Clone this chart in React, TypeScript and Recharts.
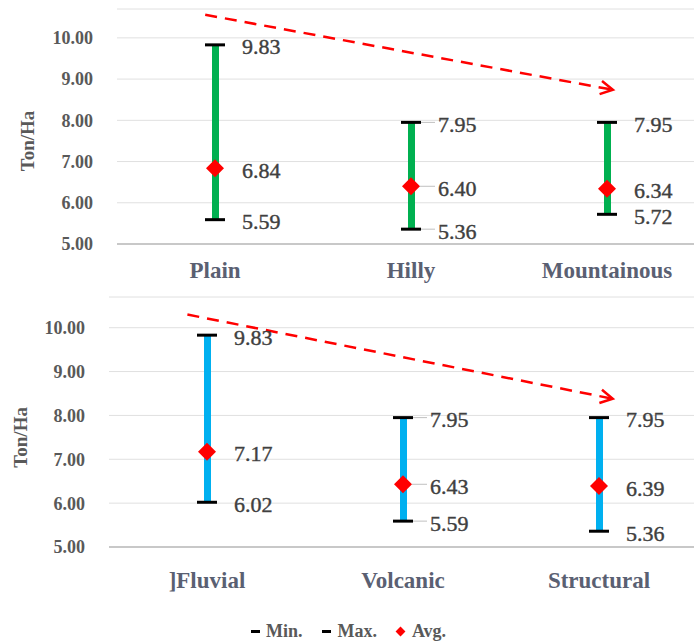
import React from "react";
import {
  ComposedChart,
  Bar,
  Scatter,
  XAxis,
  YAxis,
  CartesianGrid,
  ReferenceLine,
  Legend,
} from "recharts";

const landformCats = ["Plain", "Hilly", "Mountainous"];
const landformMin = [5.59, 5.36, 5.72];
const landformMax = [9.83, 7.95, 7.95];
const landformAvg = [6.84, 6.4, 6.34];
const landformLeader = [false, true, false];

const geoCats = ["]Fluvial", "Volcanic", "Structural"];
const geoMin = [6.02, 5.59, 5.36];
const geoMax = [9.83, 7.95, 7.95];
const geoAvg = [7.17, 6.43, 6.39];
const geoLeader = [false, true, false];

const yTicks = [5, 6, 7, 8, 9, 10];
const DOMAIN_TOP = 10.7;

// trend arrow ends: [offset from first / last category in bands, value]
const landformTrend = [
  [-0.05, 10.56],
  [0.03, 8.74],
];
const geoTrend = [
  [-0.1, 10.3],
  [0.07, 8.38],
];

const legendItems = [
  { label: "Min.", kind: "dash" },
  { label: "Max.", kind: "dash" },
  { label: "Avg.", kind: "diamond" },
];

const FONT = "'Liberation Serif', serif";

function capShape(key: "min" | "max") {
  return (p: any) => {
    const { cx, cy, payload } = p;
    return (
      <g>
        <line x1={cx - 10} x2={cx + 10} y1={cy} y2={cy} stroke="#000" strokeWidth={3} />
        {payload.leader && (
          <line x1={cx + 10} x2={cx + 24} y1={cy} y2={cy} stroke="#c0c0c0" strokeWidth={1} />
        )}
        <text
          x={cx + 27}
          y={cy + 2}
          dominantBaseline="central"
          fontSize={22}
          fill="#404040"
          stroke="#404040"
          strokeWidth={0.4}
          fontFamily={FONT}
        >
          {payload[key].toFixed(2)}
        </text>
      </g>
    );
  };
}

const avgShape = (p: any) => {
  const { cx, cy, payload } = p;
  return (
    <g>
      {payload.leader && (
        <line x1={cx + 9} x2={cx + 24} y1={cy} y2={cy} stroke="#c0c0c0" strokeWidth={1} />
      )}
      <polygon
        points={`${cx},${cy - 9} ${cx + 9},${cy} ${cx},${cy + 9} ${cx - 9},${cy}`}
        fill="#ff0000"
      />
      <text
        x={cx + 27}
        y={cy + 2}
        dominantBaseline="central"
        fontSize={22}
        fill="#404040"
        stroke="#404040"
        strokeWidth={0.4}
        fontFamily={FONT}
      >
        {payload.avg.toFixed(2)}
      </text>
    </g>
  );
};

function arrowShape(trend: number[][], nCats: number) {
  return (p: any) => {
    const { x1: cx1, y1, x2: cx2, y2 } = p;
    if (cx1 == null) return null;
    const band = (cx2 - cx1) / (nCats - 1);
    const x1 = cx1 + trend[0][0] * band;
    const x2 = cx2 + trend[1][0] * band;
    const a = Math.atan2(y2 - y1, x2 - x1);
    const len = 14;
    const h1x = x2 - len * Math.cos(a - 0.5);
    const h1y = y2 - len * Math.sin(a - 0.5);
    const h2x = x2 - len * Math.cos(a + 0.5);
    const h2y = y2 - len * Math.sin(a + 0.5);
    return (
      <g>
        <line x1={x1} y1={y1} x2={x2} y2={y2} stroke="#ff0000" strokeWidth={2.5} strokeDasharray="12 8" />
        <polyline
          points={`${h1x},${h1y} ${x2},${y2} ${h2x},${h2y}`}
          fill="none"
          stroke="#ff0000"
          strokeWidth={2.5}
        />
      </g>
    );
  };
}

const LegendRow = () => (
  <div
    style={{
      display: "flex",
      justifyContent: "center",
      gap: 20,
      paddingTop: 34,
      fontFamily: FONT,
      fontWeight: "bold",
      fontSize: 18,
      color: "#595959",
    }}
  >
    {legendItems.map((it) => (
      <span key={it.label} style={{ display: "inline-flex", alignItems: "center" }}>
        {it.kind === "dash" ? (
          <span style={{ display: "inline-block", width: 9, height: 3, background: "#000", marginRight: 6 }} />
        ) : (
          <span
            style={{
              display: "inline-block",
              width: 7,
              height: 7,
              background: "#ff0000",
              transform: "rotate(45deg)",
              marginRight: 8,
            }}
          />
        )}
        {it.label}
      </span>
    ))}
  </div>
);

type Props = {
  cats: string[];
  mins: number[];
  maxs: number[];
  avgs: number[];
  leaders: boolean[];
  trend: number[][];
  color: string;
  width: number;
  height: number;
  top: number;
  bottom: number;
  plotLeft: number;
  titleX: number;
  xTickMargin: number;
  legend?: boolean;
};

function RangeChart(props: Props) {
  const data = props.cats.map((name, i) => ({
    name,
    min: props.mins[i],
    max: props.maxs[i],
    avg: props.avgs[i],
    range: [props.mins[i], props.maxs[i]],
    leader: props.leaders[i],
  }));
  const n = props.cats.length;
  return (
    <ComposedChart
      width={props.width}
      height={props.height}
      data={data}
      margin={{ top: props.top, right: 5, bottom: props.bottom, left: 0 }}
    >
      <CartesianGrid vertical={false} stroke="#e0e0e0" />
      <XAxis
        dataKey="name"
        tickLine={false}
        axisLine={{ stroke: "#c8c8c8", strokeWidth: 2 }}
        tickMargin={props.xTickMargin}
        height={40}
        tick={{ fill: "#5a6072", fontSize: 23, fontWeight: "bold", fontFamily: FONT }}
      />
      <YAxis
        width={props.plotLeft}
        domain={[5, DOMAIN_TOP]}
        ticks={yTicks}
        tickLine={false}
        axisLine={false}
        tickSize={0}
        tickMargin={24}
        tickFormatter={(v: number) => v.toFixed(2)}
        tick={{ fill: "#595959", fontSize: 18, fontWeight: "bold", fontFamily: FONT }}
        label={{
          content: (lp: any) => {
            const vb = lp.viewBox;
            const cy = vb.y + (vb.height * (DOMAIN_TOP - 7.5)) / (DOMAIN_TOP - 5);
            const x = props.titleX;
            return (
              <text
                x={x}
                y={cy}
                transform={`rotate(-90 ${x} ${cy})`}
                textAnchor="middle"
                dominantBaseline="central"
                fontSize={19}
                fontWeight="bold"
                fill="#595959"
                fontFamily={FONT}
              >
                Ton/Ha
              </text>
            );
          },
        }}
      />
      <Bar dataKey="range" fill={props.color} barSize={7} isAnimationActive={false} />
      <Scatter dataKey="max" shape={capShape("max")} isAnimationActive={false} />
      <Scatter dataKey="min" shape={capShape("min")} isAnimationActive={false} />
      <Scatter dataKey="avg" shape={avgShape} isAnimationActive={false} />
      <ReferenceLine
        ifOverflow="visible"
        segment={[
          { x: props.cats[0], y: props.trend[0][1] },
          { x: props.cats[n - 1], y: props.trend[1][1] },
        ]}
        shape={arrowShape(props.trend, n)}
      />
      {props.legend && <Legend verticalAlign="bottom" height={56} content={() => <LegendRow />} />}
    </ComposedChart>
  );
}

export default function App() {
  return (
    <div
      style={{
        position: "absolute",
        left: 0,
        top: 0,
        width: 694,
        height: 643,
        overflow: "hidden",
        background: "#fff",
        fontFamily: FONT,
      }}
    >
      <RangeChart
        cats={landformCats}
        mins={landformMin}
        maxs={landformMax}
        avgs={landformAvg}
        leaders={landformLeader}
        trend={landformTrend}
        color="#00b050"
        width={710}
        height={295}
        top={9}
        bottom={11}
        plotLeft={117}
        titleX={28}
        xTickMargin={12}
      />
      <RangeChart
        cats={geoCats}
        mins={geoMin}
        maxs={geoMax}
        avgs={geoAvg}
        leaders={geoLeader}
        trend={geoTrend}
        color="#00b0f0"
        width={702}
        height={348}
        top={2}
        bottom={0}
        plotLeft={109}
        titleX={21}
        xTickMargin={19}
        legend
      />
    </div>
  );
}
